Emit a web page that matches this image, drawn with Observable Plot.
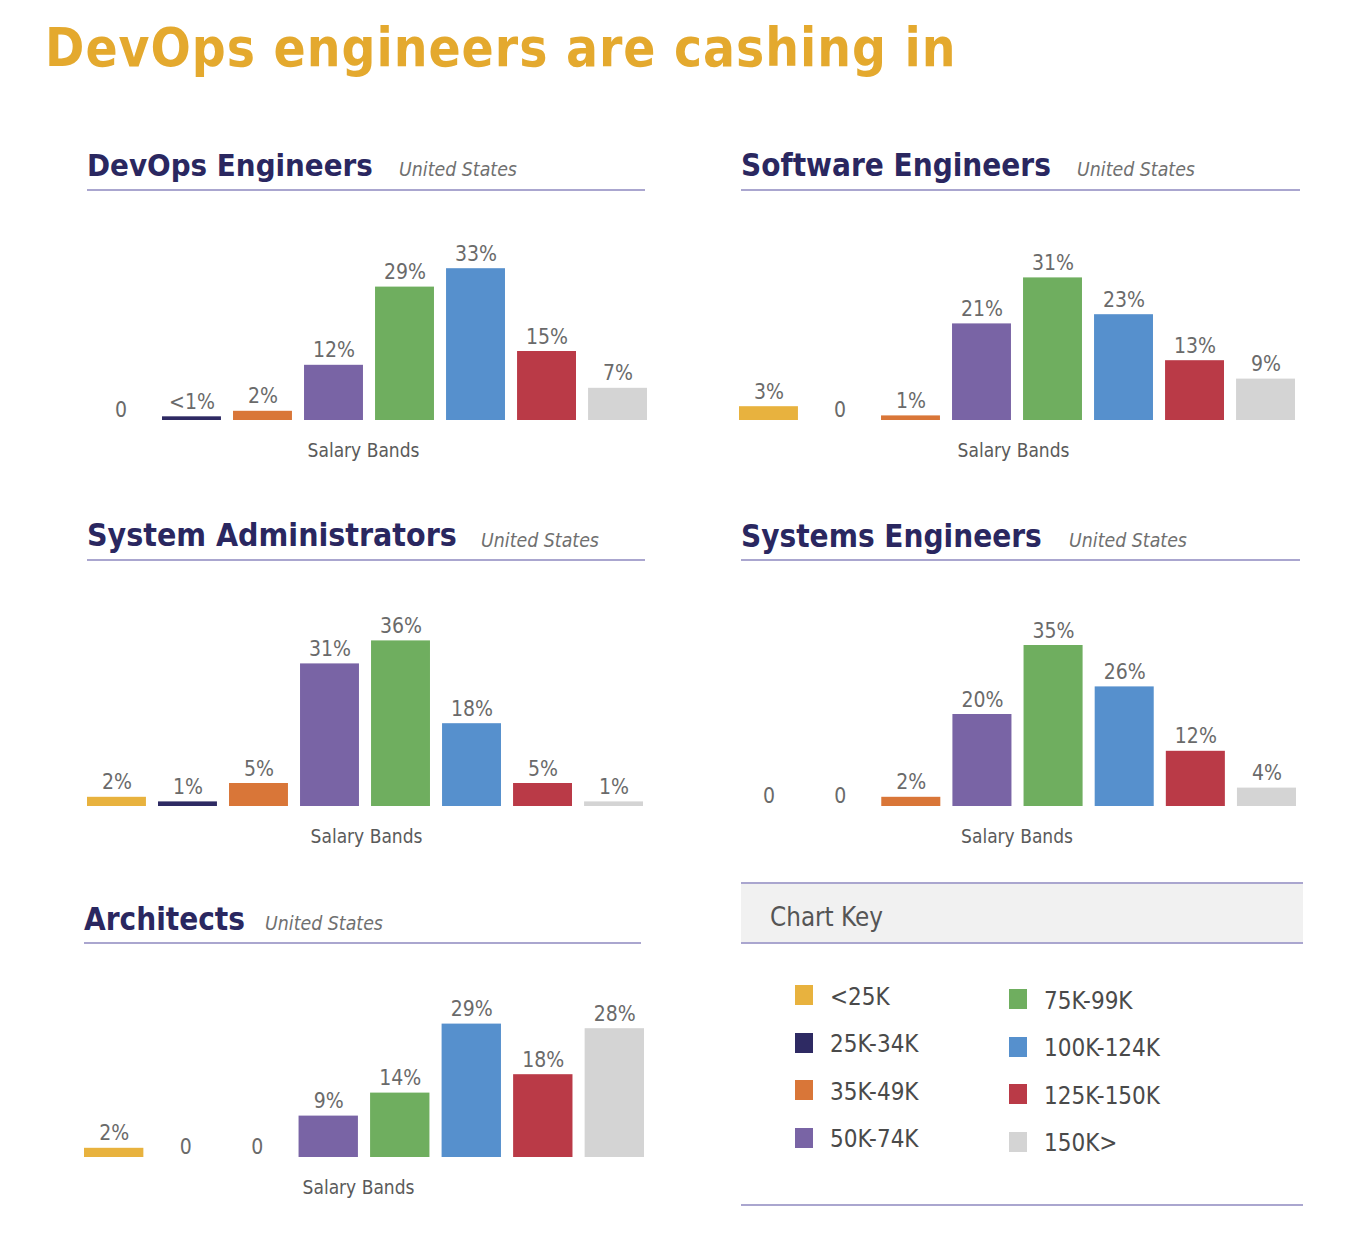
<!DOCTYPE html>
<html><head><meta charset="utf-8">
<script src="https://cdn.jsdelivr.net/npm/d3@7"></script>
<script src="https://cdn.jsdelivr.net/npm/@observablehq/plot@0.6"></script>
<style>
body{margin:0;background:#fff;width:1352px;height:1246px;position:relative;overflow:hidden;font-family:"DejaVu Sans Condensed","DejaVu Sans",sans-serif;}
.abs{position:absolute;white-space:nowrap;line-height:1;}
.rule{position:absolute;height:2px;background:#aaa6cf;}
svg{overflow:visible;}
</style></head><body>
<script>
// ---- data ----
const bands = ["<25K","25K-34K","35K-49K","50K-74K","75K-99K","100K-124K","125K-150K","150K>"];
const bandColors = ["#e8b23e","#2e2a63","#d97638","#7964a5","#6fae5f","#5690cd","#ba3a47","#d4d4d4"];
const devopsValues     = [0, 0.8, 2, 12, 29, 33, 15, 7];
const softwareValues   = [3, 0, 1, 21, 31, 23, 13, 9];
const sysadminValues   = [2, 1, 5, 31, 36, 18, 5, 1];
const systemsValues    = [0, 0, 2, 20, 35, 26, 12, 4];
const architectsValues = [2, 0, 0, 9, 14, 29, 18, 28];
const titles = ["DevOps Engineers","Software Engineers","System Administrators","Systems Engineers","Architects"];
const subtitle = "United States";
const mainTitle = "DevOps engineers are cashing in";
const axisLabel = "Salary Bands";

// ---- layout ----
const FONT = '"DejaVu Sans Condensed","DejaVu Sans",sans-serif';
const layout = [
  {values: devopsValues,     x: 91,  w: 556, base: 420,  tx: 87,  tb: 176, tw: 286, sx: 399,  r0: 87,  r1: 645,  ry: 189, ldx: -6},
  {values: softwareValues,   x: 739, w: 556, base: 420,  tx: 741, tb: 176, tw: 310, sx: 1077, r0: 741, r1: 1300, ry: 189, ldx: -4},
  {values: sysadminValues,   x: 87,  w: 556, base: 806,  tx: 87,  tb: 547, tw: 370, sx: 481,  r0: 87,  r1: 645,  ry: 559, ldx: 1},
  {values: systemsValues,    x: 739, w: 557, base: 806,  tx: 741, tb: 547, tw: 301, sx: 1069, r0: 741, r1: 1300, ry: 559, ldx: -1},
  {values: architectsValues, x: 84,  w: 560, base: 1157, tx: 84,  tb: 930, tw: 161, sx: 265,  r0: 84,  r1: 641,  ry: 942, ldx: -6}
];

function addText(txt, left, baseline, width, style) {
  const el = document.createElement("div");
  el.className = "abs";
  el.textContent = txt;
  Object.assign(el.style, style);
  el.style.left = left + "px";
  el.style.top = "0px";
  document.body.appendChild(el);
  let fs = parseFloat(el.style.fontSize);
  if (width) {
    const w = el.getBoundingClientRect().width;
    fs = fs * width / w;
    el.style.fontSize = fs + "px";
  }
  el.style.top = (baseline - 0.846 * fs) + "px";
  return el;
}
function addRule(x0, x1, y) {
  const d = document.createElement("div");
  d.className = "rule";
  d.style.left = x0 + "px"; d.style.width = (x1 - x0) + "px"; d.style.top = y + "px";
  document.body.appendChild(d);
}
const fmt = v => v === 0 ? "0" : v < 1 ? "<1%" : v + "%";

addText(mainTitle, 45, 67, 910, {fontSize: "56px", fontWeight: "bold", color: "#e4a92e", letterSpacing: "1px"});

layout.forEach((p, i) => {
  addText(titles[i], p.tx, p.tb, p.tw, {fontSize: "34px", fontWeight: "bold", color: "#2a2760"});
  addText(subtitle, p.sx, p.tb, 118, {fontSize: "20px", fontStyle: "italic", color: "#707070"});
  addRule(p.r0, p.r1, p.ry);
  const data = bands.map((b, j) => ({band: b, value: p.values[j], label: fmt(p.values[j])}));
  const svg = Plot.plot({
    width: p.w, height: 250, marginTop: 16, marginBottom: 50, marginLeft: 0, marginRight: 0,
    style: {fontFamily: FONT, background: "transparent", overflow: "visible"},
    x: {domain: bands, paddingInner: 0.17, paddingOuter: 0, round: false, axis: null},
    y: {domain: [0, 40], axis: null},
    color: {domain: bands, range: bandColors},
    marks: [
      Plot.barY(data, {x: "band", y: "value", fill: "band"}),
      Plot.text(data.filter(d => d.value > 0), {x: "band", y: "value", text: "label", dy: -8, lineAnchor: "bottom", fontSize: 21, fill: "#6a6a6a"}),
      Plot.text(data.filter(d => d.value === 0), {x: "band", y: "value", text: "label", dy: -4, lineAnchor: "bottom", fontSize: 21, fill: "#6a6a6a"}),
      Plot.text([axisLabel], {frameAnchor: "bottom", dx: p.ldx, dy: 36, fontSize: 19, fill: "#5a5a5a"})
    ]
  });
  svg.style.position = "absolute";
  svg.style.left = p.x + "px";
  svg.style.top = (p.base - 200) + "px";
  document.body.appendChild(svg);
});

// ---- chart key ----
addRule(741, 1303, 882);
const box = document.createElement("div");
Object.assign(box.style, {position: "absolute", left: "741px", top: "884px", width: "562px", height: "58px", background: "#f1f1f1"});
document.body.appendChild(box);
addRule(741, 1303, 942);
addText("Chart Key", 770, 927, 113, {fontSize: "26px", color: "#555"});
bands.forEach((b, j) => {
  const col = Math.floor(j / 4), row = j % 4;
  const sx = col ? 1009 : 795, tx = col ? 1044 : 830;
  const top = (col ? 989 : 985) + row * 47.5;
  const sw = document.createElement("div");
  Object.assign(sw.style, {position: "absolute", left: sx + "px", top: top + "px", width: "18px", height: "20px", background: bandColors[j]});
  document.body.appendChild(sw);
  addText(b, tx, top + 20, null, {fontSize: "24px", color: "#4a4a4a"});
});
addRule(741, 1303, 1204);
</script>
</body></html>
